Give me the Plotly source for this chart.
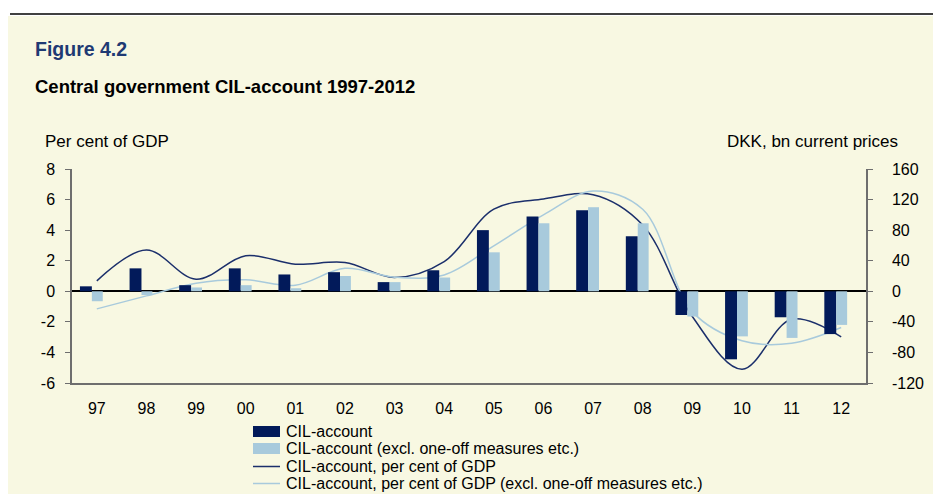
import plotly.graph_objects as go

# ---- data ----
years = ["97", "98", "99", "00", "01", "02", "03", "04", "05", "06", "07", "08", "09", "10", "11", "12"]
cil_bn = [6.5, 30, 8, 30, 22, 25, 12, 27.5, 80, 98, 106, 72, -31, -89, -34, -56]
cil_excl_bn = [-13, -5, 5, 8, 4, 20, 12, 18, 51, 89, 110, 89, -33, -59, -61, -44]
cil_pct = [0.68, 2.7, 0.79, 2.33, 1.77, 1.88, 0.9, 1.94, 5.37, 6.04, 6.32, 4.34, -1.65, -5.1, -1.83, -2.98]
cil_excl_pct = [-1.15, -0.3, 0.53, 0.75, 0.4, 1.5, 0.92, 1.07, 2.97, 5.0, 6.56, 5.37, -1.33, -3.24, -3.4, -2.37]
left_ticks = [-6, -4, -2, 0, 2, 4, 6, 8]
right_ticks = [-120, -80, -40, 0, 40, 80, 120, 160]
series_names = ["CIL-account", "CIL-account (excl. one-off measures etc.)",
                "CIL-account, per cent of GDP",
                "CIL-account, per cent of GDP (excl. one-off measures etc.)"]

W, H = 933, 494
L, R, T, B = 72, 866, 169, 383

def px(xp):
    return (xp - L) / (R - L)

def py(yp):
    return (B - yp) / (B - T)

CREAM = "#F8F8E2"
NAVY = "#021A5A"
LIGHT = "#A8CADC"
LINE_NAVY = "#1B2F6B"
AXIS = "#6E6E6E"
FONT = "Liberation Sans, Arial, sans-serif"

xs = list(range(len(years)))

fig = go.Figure()
fig.add_trace(go.Bar(x=xs, y=cil_bn, name=series_names[0], marker_color=NAVY,
                     marker_line_width=0, width=0.24, offset=-0.34, yaxis="y2"))
fig.add_trace(go.Bar(x=xs, y=cil_excl_bn, name=series_names[1],
                     marker_color=LIGHT, marker_line_width=0, width=0.22, offset=-0.10, yaxis="y2"))
fig.add_trace(go.Scatter(x=xs, y=cil_pct, name=series_names[2], mode="lines",
                         line=dict(color=LINE_NAVY, width=1.5, shape="spline", smoothing=1.0)))
fig.add_trace(go.Scatter(x=xs, y=cil_excl_pct, name=series_names[3],
                         mode="lines", line=dict(color=LIGHT, width=1.5, shape="spline", smoothing=1.0)))

shapes = [
    dict(type="rect", xref="paper", yref="paper", x0=px(8), x1=px(933), y0=py(16), y1=py(494),
         fillcolor=CREAM, line_width=0, layer="below"),
    dict(type="line", xref="paper", yref="paper", x0=px(10), x1=px(933), y0=py(14), y1=py(14),
         line=dict(color="black", width=1.5)),
]

annotations = [
    dict(text="<b>Figure 4.2</b>", xref="paper", yref="paper", x=px(33), y=py(49),
         xanchor="left", yanchor="middle", showarrow=False,
         font=dict(family=FONT, size=19.5, color="#1F3A73")),
    dict(text="<b>Central government CIL-account 1997-2012</b>", xref="paper", yref="paper",
         x=px(33), y=py(86), xanchor="left", yanchor="middle", showarrow=False,
         font=dict(family=FONT, size=18.5, color="black")),
    dict(text="Per cent of GDP", xref="paper", yref="paper", x=px(43), y=py(141),
         xanchor="left", yanchor="middle", showarrow=False,
         font=dict(family=FONT, size=17, color="black")),
    dict(text="DKK, bn current prices", xref="paper", yref="paper", x=px(900), y=py(141),
         xanchor="right", yanchor="middle", showarrow=False,
         font=dict(family=FONT, size=17, color="black")),
]

# manual legend (symbol + text), rows 17 px apart
row_y = [431.5, 448.5, 466.5, 483.5]
sym_x0, sym_x1, txt_x = 253, 280, 284
for i, name in enumerate(series_names):
    yc = row_y[i]
    if i < 2:
        shapes.append(dict(type="rect", xref="paper", yref="paper",
                           x0=px(sym_x0), x1=px(sym_x1), y0=py(yc + 5.5), y1=py(yc - 5.5),
                           fillcolor=[NAVY, LIGHT][i], line_width=0))
    else:
        shapes.append(dict(type="line", xref="paper", yref="paper",
                           x0=px(sym_x0), x1=px(sym_x1), y0=py(yc), y1=py(yc),
                           line=dict(color=[LINE_NAVY, LIGHT][i - 2], width=1.5)))
    annotations.append(dict(text=name, xref="paper", yref="paper", x=px(txt_x), y=py(yc),
                            xanchor="left", yanchor="middle", showarrow=False,
                            font=dict(family=FONT, size=16, color="black")))

fig.update_layout(
    width=W, height=H,
    margin=dict(l=L, r=W - R, t=T, b=H - B, pad=0, autoexpand=False),
    paper_bgcolor="white", plot_bgcolor=CREAM,
    font=dict(family=FONT, size=16, color="black"),
    showlegend=False,
    xaxis=dict(range=[-0.5, 15.5], tickmode="array", tickvals=xs, ticktext=years,
               showline=True, linecolor=AXIS, linewidth=1.5, ticks="", showgrid=False,
               zeroline=False, tickfont=dict(size=16), ticklabelstandoff=10),
    yaxis=dict(range=[-6, 8], tickmode="array", tickvals=left_ticks,
               ticktext=[str(v) for v in left_ticks], showline=True, linecolor=AXIS,
               linewidth=1.5, ticks="outside", ticklen=5, tickcolor=AXIS, showgrid=False,
               zeroline=True, zerolinecolor="black", zerolinewidth=1.5, tickfont=dict(size=16),
               ticklabelstandoff=7),
    yaxis2=dict(range=[-120, 160], tickmode="array", tickvals=right_ticks,
                ticktext=[str(v) for v in right_ticks], overlaying="y", side="right",
                showline=True, linecolor=AXIS, linewidth=1.5, ticks="outside", ticklen=5,
                tickcolor=AXIS, showgrid=False, zeroline=False, tickfont=dict(size=16),
                ticklabelstandoff=16),
    barmode="overlay",
    shapes=shapes,
    annotations=annotations,
)

fig.write_html("out.html", config={"displayModeBar": False},
               post_script="document.body.style.margin='0';document.body.style.overflow='hidden';")
